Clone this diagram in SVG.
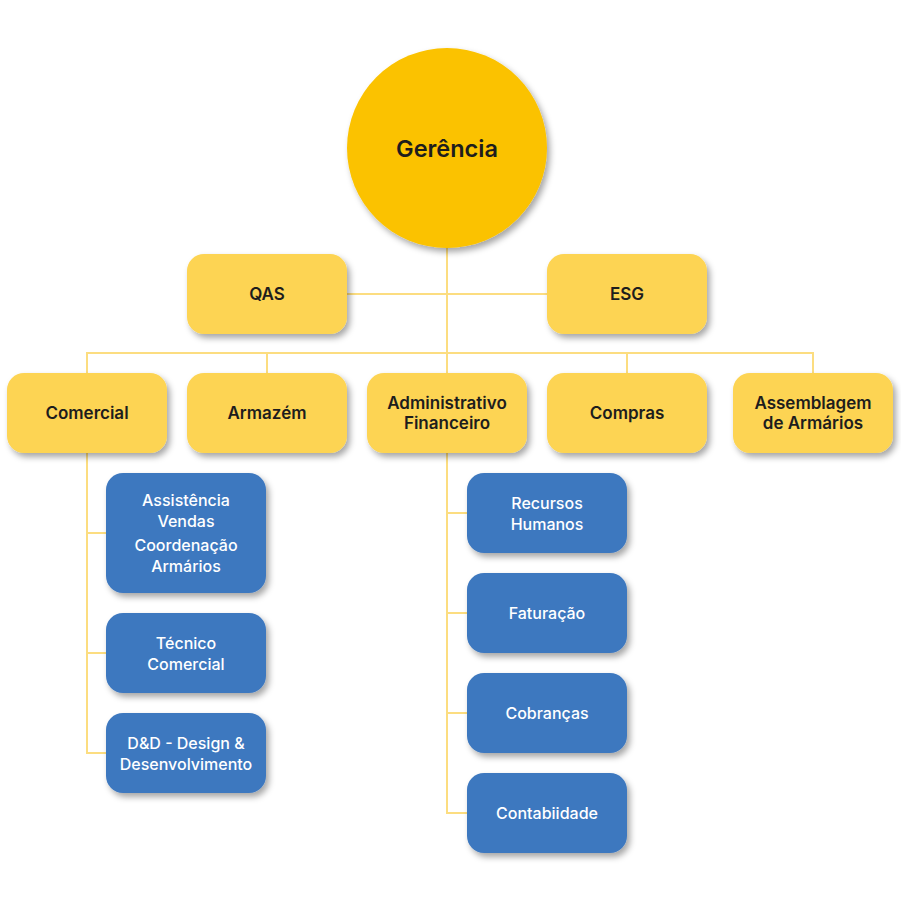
<svg xmlns="http://www.w3.org/2000/svg" width="901" height="901" viewBox="0 0 901 901">
<style>
.conn{stroke:#FCDD80;stroke-width:2;fill:none}
.y{fill:#FDD452;filter:url(#sh)}
.b{fill:#3E78BF;filter:url(#sh)}
.ty{font-family:Inter,"Open Sans",sans-serif;font-weight:600;font-size:17px;fill:#1d1d1d;text-anchor:middle;dominant-baseline:central}
.tb{font-family:Inter,"Open Sans",sans-serif;font-weight:500;font-size:16px;fill:#ffffff;text-anchor:middle;dominant-baseline:central}
</style>
<defs>
<filter id="sh" x="-20%" y="-20%" width="140%" height="150%">
<feDropShadow dx="3" dy="4" stdDeviation="3" flood-color="#000" flood-opacity="0.35"/>
</filter>
</defs>
<rect width="901" height="901" fill="#ffffff"/>
<g id="connectors">
<path class="conn" d="M447 248 V373"/>
<path class="conn" d="M347 294 H547"/>
<path class="conn" d="M87 373 V353 H813 V373"/>
<path class="conn" d="M267 353 V373 M627 353 V373"/>
<path class="conn" d="M87 453 V753 H106 M87 533 H106 M87 653 H106"/>
<path class="conn" d="M447 453 V813 H467 M447 513 H467 M447 613 H467 M447 713 H467"/>
</g>
<g id="gerencia">
<circle cx="447" cy="148" r="100" fill="#FBC200" filter="url(#sh)"/>
<text class="ty" x="447" y="148" style="font-size:23.5px">Gerência</text>
</g>
<g id="qas"><rect class="y" x="187" y="254" width="160" height="80" rx="17"/><text class="ty" x="267" y="294">QAS</text></g>
<g id="esg"><rect class="y" x="547" y="254" width="160" height="80" rx="17"/><text class="ty" x="627" y="294">ESG</text></g>
<g id="comercial"><rect class="y" x="7" y="373" width="160" height="80" rx="17"/><text class="ty" x="87" y="413">Comercial</text></g>
<g id="armazem"><rect class="y" x="187" y="373" width="160" height="80" rx="17"/><text class="ty" x="267" y="413">Armazém</text></g>
<g id="admin"><rect class="y" x="367" y="373" width="160" height="80" rx="17"/><text class="ty" x="447" y="403">Administrativo</text><text class="ty" x="447" y="423">Financeiro</text></g>
<g id="compras"><rect class="y" x="547" y="373" width="160" height="80" rx="17"/><text class="ty" x="627" y="413">Compras</text></g>
<g id="assemblagem"><rect class="y" x="733" y="373" width="160" height="80" rx="17"/><text class="ty" x="813" y="403">Assemblagem</text><text class="ty" x="813" y="423">de Armários</text></g>
<g id="assistencia"><rect class="b" x="106" y="473" width="160" height="120" rx="17"/><text class="tb" x="186" y="500">Assistência</text><text class="tb" x="186" y="521">Vendas</text><text class="tb" x="186" y="545">Coordenação</text><text class="tb" x="186" y="566">Armários</text></g>
<g id="tecnico"><rect class="b" x="106" y="613" width="160" height="80" rx="17"/><text class="tb" x="186" y="643">Técnico</text><text class="tb" x="186" y="664">Comercial</text></g>
<g id="dd"><rect class="b" x="106" y="713" width="160" height="80" rx="17"/><text class="tb" x="186" y="743">D&amp;D - Design &amp;</text><text class="tb" x="186" y="764">Desenvolvimento</text></g>
<g id="rh"><rect class="b" x="467" y="473" width="160" height="80" rx="17"/><text class="tb" x="547" y="503">Recursos</text><text class="tb" x="547" y="524">Humanos</text></g>
<g id="faturacao"><rect class="b" x="467" y="573" width="160" height="80" rx="17"/><text class="tb" x="547" y="613">Faturação</text></g>
<g id="cobrancas"><rect class="b" x="467" y="673" width="160" height="80" rx="17"/><text class="tb" x="547" y="713">Cobranças</text></g>
<g id="contabilidade"><rect class="b" x="467" y="773" width="160" height="80" rx="17"/><text class="tb" x="547" y="813">Contabiidade</text></g>
</svg>
